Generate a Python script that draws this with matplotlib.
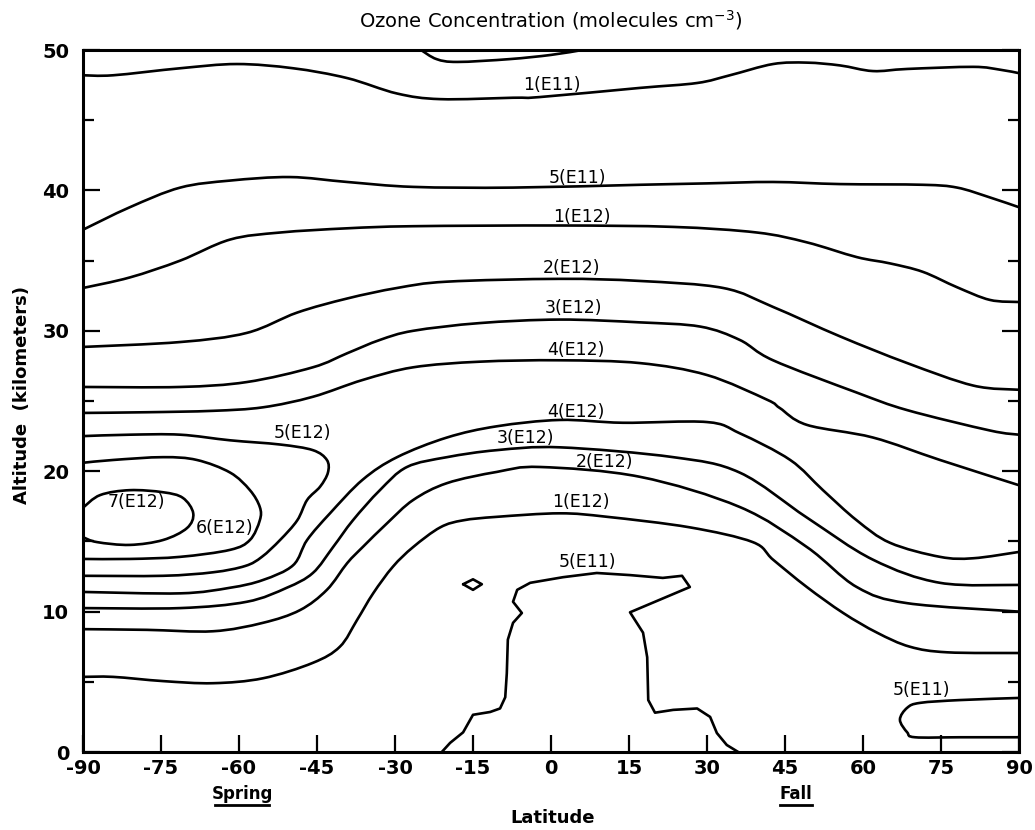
import matplotlib.pyplot as plt
from matplotlib.lines import Line2D
from matplotlib.path import Path
from matplotlib.patches import PathPatch

plt.rcParams['font.family'] = ['DejaVu Sans']
plt.rcParams['axes.unicode_minus'] = False

# ---------------------------------------------------------------------------
# Ozone number density isolines
# each contour: latitude [deg] and altitude [km]
# ---------------------------------------------------------------------------
c1e11_lat = [-90, -84.2, -71.3, -60.4, -49.6, -39.2, -29.6, -21.3, -7.3, -2.1, 17.1, 28.1, 34.4, 42.7, 49.2, 55.6, 61.9, 68.5, 81.2, 86.3, 90]
c1e11_alt = [48.2, 48.2, 48.7, 49.0, 48.7, 48.0, 46.9, 46.5, 46.6, 46.65, 47.3, 47.65, 48.2, 49.0, 49.1, 48.9, 48.5, 48.65, 48.8, 48.6, 48.35]

# small lens hanging from the top border
ctop_lat = [-25, -22, -18, -8, 0, 6]
ctop_alt = [50, 49.35, 49.15, 49.35, 49.65, 50]

c5e11_up_lat = [-90, -81, -71.3, -61.7, -50.2, -39.2, -26.5, -7.3, 17.1, 30.0, 42.7, 55.6, 71.5, 78.1, 84.4, 90]
c5e11_up_alt = [37.2, 38.8, 40.2, 40.7, 40.95, 40.6, 40.25, 40.2, 40.4, 40.5, 40.6, 40.45, 40.4, 40.2, 39.5, 38.8]

c1e12_up_lat = [-90, -81, -71.3, -61.7, -52.1, -39.2, -26.5, 1.7, 23.5, 39.6, 49.2, 58.8, 65.2, 71.5, 78.1, 84.4, 90]
c1e12_up_alt = [33.05, 33.8, 35.0, 36.5, 37.0, 37.3, 37.45, 37.5, 37.4, 37.0, 36.3, 35.25, 34.8, 34.2, 33.1, 32.2, 32.05]

c2e12_up_lat = [-90, -71.3, -58.5, -48.8, -39.2, -29.6, -20, 1.7, 17.1, 33.1, 42.7, 55.6, 68.5, 81.2, 90]
c2e12_up_alt = [28.85, 29.2, 29.85, 31.3, 32.3, 33.05, 33.5, 33.7, 33.55, 33.05, 31.7, 29.6, 27.7, 26.1, 25.8]

c3e12_up_lat = [-90, -71.3, -58.5, -45.8, -39.2, -32.9, -26.5, -13.7, 1.7, 17.1, 28.7, 36.3, 42.7, 58.8, 68.5, 84.4, 90]
c3e12_up_alt = [26.0, 26.0, 26.35, 27.4, 28.4, 29.35, 30.0, 30.55, 30.8, 30.6, 30.3, 29.35, 27.9, 25.6, 24.35, 22.9, 22.6]

c4e12_up_lat = [-90, -77.7, -65, -55.4, -45.8, -36.2, -26.5, -13.7, 1.7, 17.1, 30, 41.5, 44, 49.2, 61.9, 74.8, 90]
c4e12_up_alt = [24.15, 24.2, 24.3, 24.55, 25.3, 26.5, 27.4, 27.8, 27.9, 27.7, 26.85, 25.1, 24.5, 23.3, 22.4, 20.8, 19.0]

# closed contours against the south pole edge
c5e12_lat = [-90, -81, -71.3, -61.7, -52.1, -45.8, -43.1, -42.9, -44.4, -46.9, -48.8, -52.1, -55.6, -58.8, -65, -74.6, -90]
c5e12_alt = [22.5, 22.6, 22.6, 22.2, 21.9, 21.5, 20.8, 19.9, 18.9, 17.95, 16.5, 15.1, 13.9, 13.25, 12.8, 12.55, 12.55]

c6e12_lat = [-90, -84.2, -74.6, -68.1, -61.7, -57.9, -56, -56, -57.9, -61.7, -71.3, -81, -90]
c6e12_alt = [20.6, 20.8, 21.0, 20.8, 19.9, 18.65, 17.45, 16.5, 15.1, 14.4, 13.9, 13.75, 13.75]

c7e12_lat = [-90, -86.7, -81, -74.6, -70.8, -68.8, -70, -74.6, -81, -87.3, -90]
c7e12_alt = [17.4, 18.3, 18.65, 18.5, 18.1, 17.0, 15.95, 15.1, 14.75, 14.95, 15.3]

c4e12_lo_lat = [-90, -71.3, -61.7, -55.4, -49.6, -46.9, -42.5, -36.2, -29.6, -20, -10.4, 1.7, 13.8, 30, 36.3, 46, 52.3, 58.8, 65.2, 74.8, 81.2, 90]
c4e12_lo_alt = [11.4, 11.3, 11.7, 12.25, 13.3, 15.1, 17.0, 19.4, 21.0, 22.4, 23.2, 23.65, 23.45, 23.5, 22.7, 20.8, 18.65, 16.5, 14.9, 13.9, 13.8, 14.25]

c3e12_lo_lat = [-90, -71.3, -58.5, -50.8, -45.8, -41.9, -38.1, -32.9, -27.7, -20, -10.4, 1.7, 23.5, 36.3, 49.2, 61.9, 74.8, 90]
c3e12_lo_alt = [10.25, 10.25, 10.7, 11.7, 12.75, 14.6, 16.5, 18.65, 20.3, 21.0, 21.5, 21.7, 21.0, 19.9, 16.7, 13.7, 12.05, 11.9]

c2e12_lo_lat = [-90, -77.7, -65, -55.4, -48.3, -43.1, -39.2, -36.2, -31.5, -26.5, -20, -10.4, -2.1, 17.1, 36.3, 49.2, 58.8, 68.5, 90]
c2e12_lo_alt = [8.75, 8.7, 8.6, 9.2, 10.1, 11.55, 13.45, 14.6, 16.3, 17.95, 19.15, 19.95, 20.3, 19.6, 17.45, 14.6, 11.75, 10.6, 10.0]

c1e12_lo_lat = [-90, -84.2, -74.6, -65, -55.4, -45.8, -40.6, -37.3, -34.2, -30.4, -26.5, -21.3, -16.9, -10.4, 1.7, 10.8, 26.7, 38.8, 42.7, 49.2, 56.2, 62.7, 69, 76.2, 90]
c1e12_lo_alt = [5.35, 5.35, 5.05, 4.9, 5.25, 6.35, 7.5, 9.4, 11.3, 13.2, 14.6, 16.0, 16.5, 16.75, 17.0, 16.75, 16.0, 14.95, 13.7, 11.75, 9.9, 8.5, 7.5, 7.1, 7.05]

# tropical tropopause minimum (drawn with its corners kept)
c5e11_eq_lat = [-21, -19.4, -16.9, -15, -11.7, -9.8, -8.8, -8.5, -8.3, -7.3, -5.6, -7.3, -6.5, -4.0, 2.3, 8.8, 15.2, 21.5, 25.2, 26.7, 15.2, 15.8, 17.7, 18.5, 18.7, 20, 23.5, 28.1, 30.6, 31.9, 33.8, 36]
c5e11_eq_alt = [0, 0.65, 1.4, 2.65, 2.85, 3.1, 3.9, 5.6, 8.0, 9.2, 9.9, 10.7, 11.55, 12.05, 12.45, 12.75, 12.6, 12.4, 12.55, 11.75, 9.95, 9.6, 8.5, 6.75, 3.7, 2.8, 3.0, 3.1, 2.5, 1.35, 0.5, 0]

c5e11_diam_lat = [-16.9, -15, -13.3, -15, -16.9]
c5e11_diam_alt = [11.95, 12.3, 11.95, 11.55, 11.95]

c5e11_np_lat = [90, 78.7, 71, 68.5, 67.1, 68.5, 70, 78.7, 90]
c5e11_np_alt = [3.85, 3.7, 3.5, 3.15, 2.3, 1.4, 1.05, 1.05, 1.05]

# contour labels
label_text = ['1(E11)', '5(E11)', '1(E12)', '2(E12)', '3(E12)', '4(E12)', '4(E12)', '3(E12)',
              '2(E12)', '1(E12)', '5(E11)', '5(E12)', '6(E12)', '7(E12)', '5(E11)']
label_lat = [0.2, 5.0, 6.0, 4.0, 4.4, 4.8, 4.8, -5.0, 10.2, 5.8, 7.1, -47.8, -62.7, -79.8, 71.3]
label_alt = [47.5, 40.9, 38.1, 34.5, 31.6, 28.6, 24.2, 22.35, 20.65, 17.8, 13.5, 22.7, 15.95, 17.8, 4.4]

x_ticks = [-90, -75, -60, -45, -30, -15, 0, 15, 30, 45, 60, 75, 90]
y_ticks = [0, 10, 20, 30, 40, 50]
y_minor = [5, 15, 25, 35, 45]


# Catmull-Rom style bezier path through the read points (pen-drawn look)
def smooth_path(xs, ys):
    pts = list(zip(xs, ys))
    n = len(pts)
    verts = [pts[0]]
    codes = [Path.MOVETO]
    for i in range(n - 1):
        p0 = pts[i - 1] if i > 0 else pts[i]
        p1 = pts[i]
        p2 = pts[i + 1]
        p3 = pts[i + 2] if i + 2 < n else pts[i + 1]
        c1 = (p1[0] + (p2[0] - p0[0]) / 6, p1[1] + (p2[1] - p0[1]) / 6)
        c2 = (p2[0] - (p3[0] - p1[0]) / 6, p2[1] - (p3[1] - p1[1]) / 6)
        verts += [c1, c2, p2]
        codes += [Path.CURVE4] * 3
    return Path(verts, codes)


def main():
    fig = plt.figure(figsize=(10.35, 8.3), dpi=100)
    ax = fig.add_axes([83 / 1035, 1 - 752 / 830, 936 / 1035, 702 / 830])

    smooth = [
        (c1e11_lat, c1e11_alt), (ctop_lat, ctop_alt),
        (c5e11_up_lat, c5e11_up_alt), (c1e12_up_lat, c1e12_up_alt),
        (c2e12_up_lat, c2e12_up_alt), (c3e12_up_lat, c3e12_up_alt),
        (c4e12_up_lat, c4e12_up_alt), (c5e12_lat, c5e12_alt),
        (c6e12_lat, c6e12_alt), (c7e12_lat, c7e12_alt),
        (c4e12_lo_lat, c4e12_lo_alt), (c3e12_lo_lat, c3e12_lo_alt),
        (c2e12_lo_lat, c2e12_lo_alt), (c1e12_lo_lat, c1e12_lo_alt),
        (c5e11_np_lat, c5e11_np_alt),
    ]
    for lat, alt in smooth:
        ax.add_patch(PathPatch(smooth_path(lat, alt), fill=False, ec='black', lw=1.9,
                               capstyle='round', joinstyle='round'))

    for lat, alt in [(c5e11_eq_lat, c5e11_eq_alt), (c5e11_diam_lat, c5e11_diam_alt)]:
        ax.plot(lat, alt, color='black', lw=1.9, solid_joinstyle='round', solid_capstyle='round')

    for txt, la, al in zip(label_text, label_lat, label_alt):
        ax.text(la, al, txt, fontsize=12.5, ha='center', va='center')

    ax.set_xlim(-90, 90)
    ax.set_ylim(0, 50)
    ax.set_xticks(x_ticks)
    ax.set_yticks(y_ticks)
    ax.set_yticks(y_minor, minor=True)
    ax.tick_params(axis='both', which='major', direction='in', length=12, width=1.6,
                   labelsize=14, pad=5)
    ax.tick_params(axis='y', which='major', right=True, pad=10)
    ax.tick_params(axis='y', which='minor', direction='in', length=8, width=1.6, right=True)
    for lab in ax.get_xticklabels() + ax.get_yticklabels():
        lab.set_fontweight('bold')
    for sp in ax.spines.values():
        sp.set_linewidth(2.2)

    fig.text(0.532, 1 - 20 / 830, 'Ozone Concentration (molecules cm$^{-3}$)',
             fontsize=14, ha='center', va='center')
    fig.text(22 / 1035, 1 - 395 / 830, 'Altitude  (kilometers)', rotation=90,
             fontsize=13, fontweight='bold', ha='center', va='center')
    fig.text(553 / 1035, 1 - 818 / 830, 'Latitude', fontsize=13, fontweight='bold',
             ha='center', va='center')

    # season markers under the axis, underlined
    for txt, xc, half in [('Spring', 242, 27), ('Fall', 796, 16)]:
        fig.text(xc / 1035, 1 - 794 / 830, txt, fontsize=12, fontweight='bold',
                 ha='center', va='center')
        fig.add_artist(Line2D([(xc - half) / 1035, (xc + half) / 1035],
                              [1 - 805 / 830, 1 - 805 / 830],
                              transform=fig.transFigure, color='black', lw=2))

    fig.savefig('out.png', dpi=100)


if __name__ == '__main__':
    main()
